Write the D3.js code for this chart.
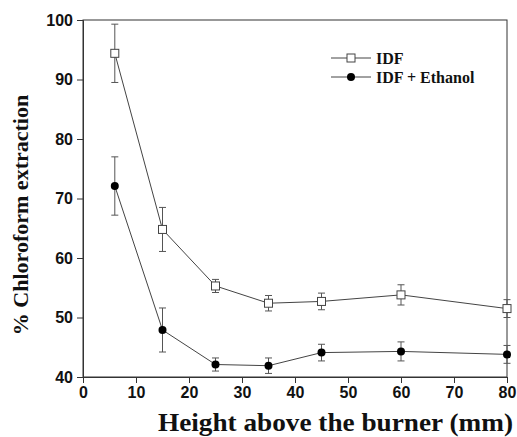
<!DOCTYPE html>
<html>
<head>
<meta charset="utf-8">
<script src="https://cdn.jsdelivr.net/npm/d3@7"></script>
<style>
  body { margin: 0; background: #fff; }
  svg { display: block; }
  .tick text { font-family: "Liberation Sans", Arial, sans-serif; font-weight: bold; font-size: 16px; fill: #111; }
  .axisTitle, .legendText { font-family: "Liberation Serif", "Times New Roman", serif; font-weight: bold; fill: #111; }
</style>
</head>
<body>
<div id="chart"></div>
<script>
let width = 517,
height = 437;

let margin = {left: 83, right: 10, top: 20, bottom: 60};

let heights = [6, 15, 25, 35, 45, 60, 80];
let idf = [94.4, 64.8, 55.3, 52.4, 52.7, 53.8, 51.5];
let idfErr = [4.9, 3.7, 1.1, 1.3, 1.4, 1.7, 1.5];
let ethanol = [72.1, 47.9, 42.1, 41.9, 44.1, 44.3, 43.8];
let ethanolErr = [4.9, 3.7, 1.1, 1.3, 1.4, 1.6, 1.5];
let xTicks = [0, 10, 20, 30, 40, 50, 60, 70, 80];
let yTicks = [40, 50, 60, 70, 80, 90, 100];
let seriesNames = ["IDF", "IDF + Ethanol"];

let x = d3.scaleLinear()
.domain([0, 80])
.range([margin.left, 507]);

let y = d3.scaleLinear()
.domain([40, 100])
.range([377, margin.top]);

let svg = d3.select("#chart").append("svg")
.attr("width", width)
.attr("height", height);

// frame
svg.append("rect")
.attr("x", x(0))
.attr("y", y(100))
.attr("width", x(80) - x(0))
.attr("height", y(40) - y(100))
.attr("fill", "none")
.attr("stroke", "#333")
.attr("stroke-width", 1);

let xAxis = svg.append("g")
.attr("transform", "translate(0," + y(40) + ")")
.call(d3.axisBottom(x).tickValues(xTicks).tickSize(6).tickPadding(4));

let yAxis = svg.append("g")
.attr("transform", "translate(" + x(0) + ",0)")
.call(d3.axisLeft(y).tickValues(yTicks).tickSize(6).tickPadding(4));

[xAxis, yAxis].forEach(a => {
	a.select(".domain").attr("stroke", "#333");
	a.selectAll(".tick line").attr("stroke", "#333");
});

// axis titles
svg.append("text")
.classed("axisTitle", true)
.attr("x", 158)
.attr("y", 431)
.attr("font-size", 25)
.attr("textLength", 355)
.attr("lengthAdjust", "spacingAndGlyphs")
.text("Height above the burner (mm)");

svg.append("text")
.classed("axisTitle", true)
.attr("transform", "translate(28,215) rotate(-90)")
.attr("text-anchor", "middle")
.attr("font-size", 22)
.text("% Chloroform extraction");

let series = [
	{name: seriesNames[0], values: idf, err: idfErr, marker: "square"},
	{name: seriesNames[1], values: ethanol, err: ethanolErr, marker: "circle"}
];

let line = d3.line()
.x(d => x(d.h))
.y(d => y(d.v));

series.forEach(s => {
	let pts = heights.map((h, i) => ({h: h, v: s.values[i], e: s.err[i]}));

	svg.append("path")
	.datum(pts)
	.attr("d", line)
	.attr("fill", "none")
	.attr("stroke", "#444")
	.attr("stroke-width", 1);

	let eb = svg.append("g").selectAll("g")
	.data(pts)
	.enter()
	.append("g")
	.attr("stroke", "#555")
	.attr("stroke-width", 1);

	eb.append("line")
	.attr("x1", d => x(d.h)).attr("x2", d => x(d.h))
	.attr("y1", d => y(d.v + d.e)).attr("y2", d => y(d.v - d.e));
	eb.append("line")
	.attr("x1", d => x(d.h) - 3.5).attr("x2", d => x(d.h) + 3.5)
	.attr("y1", d => y(d.v + d.e)).attr("y2", d => y(d.v + d.e));
	eb.append("line")
	.attr("x1", d => x(d.h) - 3.5).attr("x2", d => x(d.h) + 3.5)
	.attr("y1", d => y(d.v - d.e)).attr("y2", d => y(d.v - d.e));

	if (s.marker == "square") {
		svg.append("g").selectAll("rect")
		.data(pts)
		.enter()
		.append("rect")
		.attr("x", d => x(d.h) - 4)
		.attr("y", d => y(d.v) - 4)
		.attr("width", 8)
		.attr("height", 8)
		.attr("fill", "#fff")
		.attr("stroke", "#444")
		.attr("stroke-width", 1);
	} else {
		svg.append("g").selectAll("circle")
		.data(pts)
		.enter()
		.append("circle")
		.attr("cx", d => x(d.h))
		.attr("cy", d => y(d.v))
		.attr("r", 4)
		.attr("fill", "#000");
	}
});

// legend
let legend = svg.append("g");
series.forEach((s, i) => {
	let ly = 58 + i * 19;
	legend.append("line")
	.attr("x1", 331).attr("x2", 371)
	.attr("y1", ly).attr("y2", ly)
	.attr("stroke", "#444");
	if (s.marker == "square") {
		legend.append("rect")
		.attr("x", 347).attr("y", ly - 4)
		.attr("width", 8).attr("height", 8)
		.attr("fill", "#fff").attr("stroke", "#444");
	} else {
		legend.append("circle")
		.attr("cx", 351).attr("cy", ly).attr("r", 4)
		.attr("fill", "#000");
	}
	legend.append("text")
	.classed("legendText", true)
	.attr("x", 376)
	.attr("y", ly + 6)
	.attr("font-size", 16)
	.text(s.name);
});
</script>
</body>
</html>
